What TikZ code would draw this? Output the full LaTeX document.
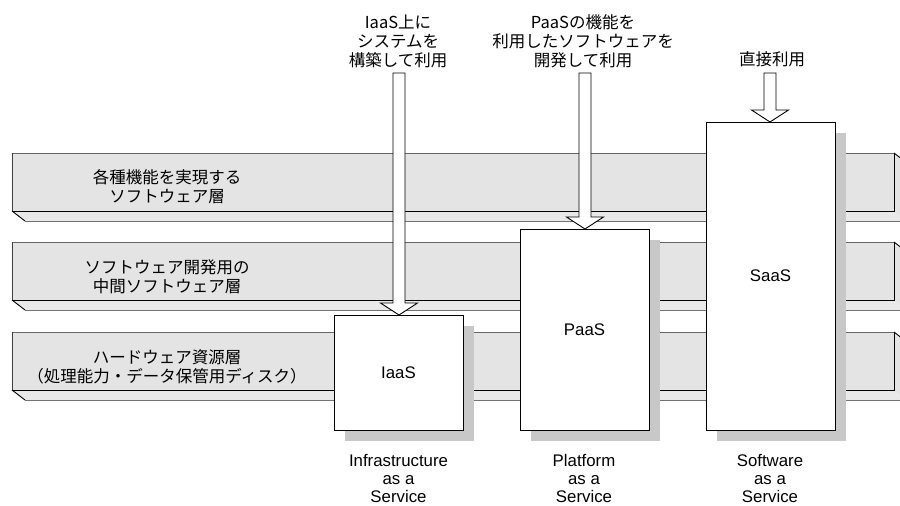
\documentclass[tikz,border=0pt]{standalone}
\usepackage{fontspec}
\setmainfont{Liberation Sans}
\newfontfamily\jpfont{Noto Sans CJK JP}
\usetikzlibrary{calc}
\definecolor{layerfill}{HTML}{E4E4E4}
\definecolor{slabfill}{HTML}{E9E9E9}
\definecolor{shadowgray}{HTML}{C8C8C8}
\newcommand{\hollowarrow}[2]{%
  \draw[hollow] ($(#1)+(-6,0)$) -- ($(#1 |- #2)+(-6,-12)$) -- ($(#1 |- #2)+(-18.5,-12)$)
    -- (#1 |- #2) -- ($(#1 |- #2)+(18.5,-12)$) -- ($(#1 |- #2)+(6,-12)$) -- ($(#1)+(6,0)$) -- cycle;}
\begin{document}
\begin{tikzpicture}[x=1pt,y=-1pt,line width=0.9pt,
  face/.style={draw=none,fill=layerfill,minimum width=882pt,minimum height=58pt,anchor=north west,inner sep=0pt,outer sep=0pt},
  jp/.style={font=\jpfont\fontsize{16.5}{19}\selectfont,align=center,inner sep=0pt},
  en/.style={font=\fontsize{16.8}{18.3}\selectfont,align=center,inner sep=0pt},
  svc/.style={draw=black,fill=white,inner sep=0pt,outer sep=0pt,minimum width=129pt,font=\fontsize{16.8}{18.5}\selectfont},
  hollow/.style={draw=black,fill=white,line join=miter},
  topedge/.style={draw=black!60},
  slabedge/.style={draw=black!55},
]
\useasboundingbox (0,0) rectangle (900,506);
\clip (0,0) rectangle (900,506);
\fill[white] (0,0) rectangle (900,506);

% layers
\foreach \n/\y in {1/153,2/242,3/332}{
  \node[face] (L\n) at (12,\y) {};
  \fill[slabfill] (L\n.south west) -- ++(13,10) -- ($(L\n.south east)+(13,10)$) -- (L\n.south east) -- cycle;
  \fill[layerfill] (L\n.north east) -- ++(13,10) -- ($(L\n.south east)+(13,10)$) -- (L\n.south east) -- cycle;
  \draw[slabedge] ($(L\n.south west)+(13,10)$) -- ($(L\n.south east)+(13,10)$);
  \draw (L\n.south west) -- ++(13,10);
  \draw (L\n.north east) -- ++(13,10);
  \draw[topedge] (L\n.north west) -- (L\n.north east);
  \draw[draw=black!75] (L\n.north west) -- (L\n.south west);
  \draw (L\n.south west) -- (L\n.south east) -- (L\n.north east);
}
\node[jp] (t1) at (167,187) {各種機能を実現する\\ソフトウェア層};
\node[jp] (t2) at (167,277) {ソフトウェア開発用の\\中間ソフトウェア層};
\node[jp] (t3) at (167,366.5) {ハードウェア資源層\\（処理能力・データ保管用ディスク）};

% service boxes with shadows
\foreach \nm/\x/\y/\h/\lab in {iaas/398.5/372.5/115/IaaS, paas/584.5/329.5/201/PaaS, saas/770.5/276/308/SaaS}{
  \fill[shadowgray] (\x-64.5+11,\y-\h/2+11) rectangle (\x+64.5+11,\y+\h/2+11);
  \node[svc,minimum height=\h pt] (\nm) at (\x,\y) {\lab};
}

% arrows
\coordinate (a1) at (399,73);
\coordinate (a2) at (585,73);
\coordinate (a3) at (770,73);
\hollowarrow{a1}{iaas.north}
\hollowarrow{a2}{paas.north}
\hollowarrow{a3}{saas.north}

% top labels
\node[jp] (u1) at (398,41) {IaaS上に\\システムを\\構築して利用};
\node[jp] (u2) at (583,41) {PaaSの機能を\\利用したソフトウェアを\\開発して利用};
\node[jp] (u3) at (772,59) {直接利用};

% bottom labels
\node[en] (b1) at (398.5,478.5) {Infrastructure\\as a\\Service};
\node[en] (b2) at (584,478.5) {Platform\\as a\\Service};
\node[en] (b3) at (770,478.5) {Software\\as a\\Service};
\end{tikzpicture}
\end{document}
